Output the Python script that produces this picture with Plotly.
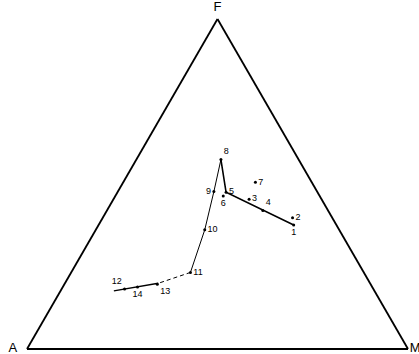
import plotly.graph_objects as go

# Sample compositions (wt% normalised): F = FeO*, A = Na2O+K2O, M = MgO
sample_ids = ["1", "2", "3", "4", "5", "6", "7", "8", "9", "10", "11", "12", "13", "14"]
F_vals = [37.6, 39.8, 45.4, 42.0, 47.5, 46.4, 50.5, 57.4, 47.7, 36.1, 23.2, 18.2, 19.6, 18.8]
A_vals = [11.2, 10.4, 19.0, 17.1, 24.0, 25.3, 14.8, 20.4, 27.1, 35.3, 45.5, 65.3, 56.0, 61.6]
M_vals = [51.2, 49.8, 35.6, 40.9, 28.5, 28.3, 34.7, 22.2, 25.2, 28.6, 31.3, 16.5, 24.4, 19.6]
label_pos = ["bottom center", "middle right", "middle right", "top right", "middle right",
             "bottom center", "middle right", "top right", "middle left", "middle right",
             "middle right", "top left", "bottom right", "bottom center"]

# Differentiation trend (upper part, heavy)
trend1_F = [37.6, 47.5, 57.4]
trend1_A = [11.2, 24.0, 20.4]
trend1_M = [51.2, 28.5, 22.2]
# Differentiation trend (lower part, light)
trend2_F = [57.4, 47.7, 36.1, 23.2]
trend2_A = [20.4, 27.1, 35.3, 45.5]
trend2_M = [22.2, 25.2, 28.6, 31.3]
# Inferred (dashed) segment
trend3_F = [23.2, 19.9]
trend3_A = [45.5, 55.6]
trend3_M = [31.3, 24.5]
# Final segment
trend4_F = [19.9, 17.6]
trend4_A = [55.6, 68.4]
trend4_M = [24.5, 14.0]

vertex_names = ["F", "A", "M"]
vertex_F = [100, 0, 0]
vertex_A = [0, 100, 0]
vertex_M = [0, 0, 100]
vertex_pos = ["top center", "middle left", "middle right"]
vertex_gap = [6, 14, 1]

FONT = "Liberation Sans, Arial, sans-serif"

fig = go.Figure()

def line_trace(a, b, c, width, dash="solid"):
    return go.Scatterternary(a=a, b=b, c=c, mode="lines",
                             line=dict(color="black", width=width, dash=dash),
                             hoverinfo="skip", showlegend=False)

fig.add_trace(line_trace(trend1_F, trend1_A, trend1_M, 1.6))
fig.add_trace(line_trace(trend2_F, trend2_A, trend2_M, 1.0))
fig.add_trace(line_trace(trend3_F, trend3_A, trend3_M, 1.0, dash="4px,3px"))
fig.add_trace(line_trace(trend4_F, trend4_A, trend4_M, 1.4))

fig.add_trace(go.Scatterternary(
    a=F_vals, b=A_vals, c=M_vals, mode="markers+text",
    text=sample_ids, textposition=label_pos,
    textfont=dict(family=FONT, size=9, color="black"),
    marker=dict(color="black", size=3),
    cliponaxis=False, showlegend=False))

fig.add_trace(go.Scatterternary(
    a=vertex_F, b=vertex_A, c=vertex_M, mode="markers+text",
    text=vertex_names, textposition=vertex_pos,
    textfont=dict(family=FONT, size=13, color="black"),
    marker=dict(size=vertex_gap, color="rgba(0,0,0,0)"),
    cliponaxis=False, showlegend=False, hoverinfo="skip"))

axis_style = dict(showline=True, linecolor="black", linewidth=1.8,
                  showgrid=False, showticklabels=False, ticks="", ticklen=0,
                  title=dict(text=""))

fig.update_layout(
    template="none",
    width=419, height=354,
    margin=dict(l=27, r=11, t=19, b=5),
    paper_bgcolor="white",
    ternary=dict(sum=100, bgcolor="white",
                 aaxis=axis_style, baxis=axis_style, caxis=axis_style),
    font=dict(family=FONT),
    showlegend=False,
)

fig.write_html("out.html", config={"displayModeBar": False},
               post_script="document.body.style.margin='0px';document.body.style.overflow='hidden';")
